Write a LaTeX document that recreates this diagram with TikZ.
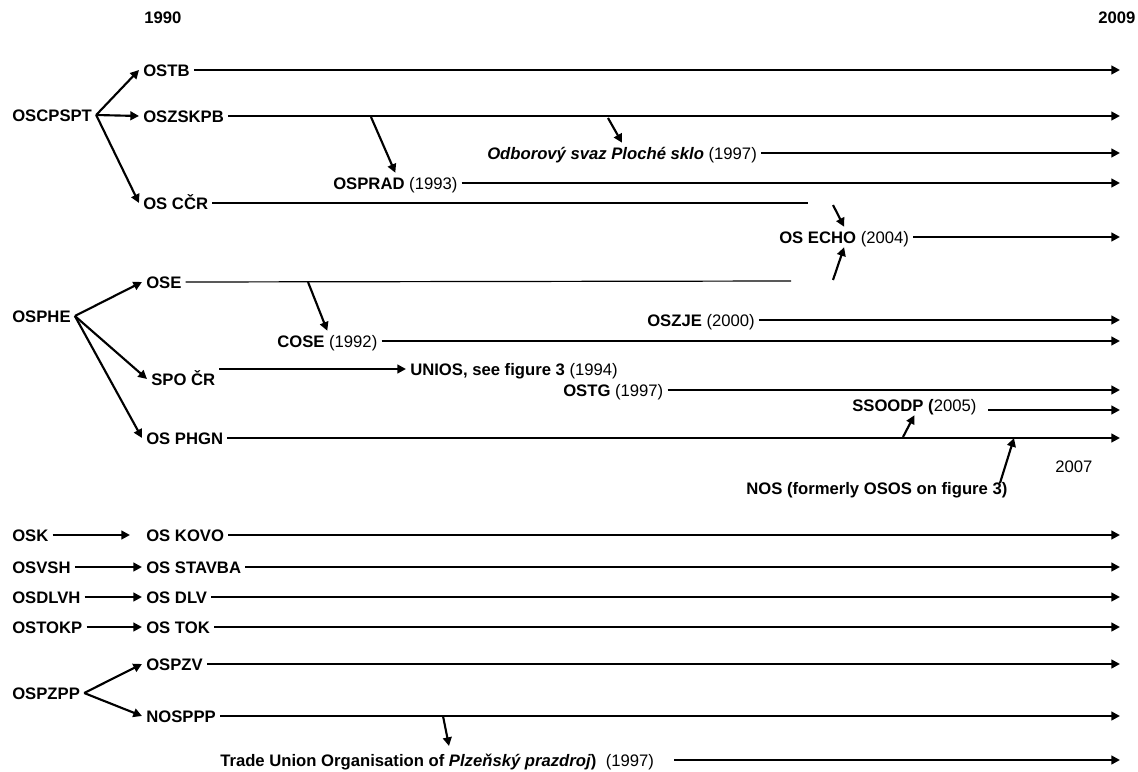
\documentclass[tikz,border=0pt]{standalone}
\usepackage{fontspec}
\setmainfont{Liberation Sans}
\usetikzlibrary{arrows.meta}

\begin{document}
\begin{tikzpicture}[x=0.75pt,y=-0.75pt,
  lbl/.style={anchor=west,inner sep=3pt,text height=9pt,text depth=0pt,font=\fontsize{12.5}{15}\selectfont},
  tl/.style={line width=2.1pt,-{Triangle[length=6.5pt,width=6.5pt]}},
  thin line/.style={line width=0.9pt},
  br/.style={line width=1.6pt,-{Triangle[length=6.5pt,width=6.5pt]}}]
\useasboundingbox (0,0) rectangle (1138,771);
\coordinate (end) at (1120,0);
% years
\node[lbl] at (140,17) (y1990) {\textbf{1990}};
\node[lbl] at (1094,17) (y2009) {\textbf{2009}};
% first group
\node[lbl] at (8,115) (oscpspt) {\textbf{OSCPSPT}};
\node[lbl] at (139,70) (ostb) {\textbf{OSTB}};
\node[lbl] at (139,116) (oszskpb) {\textbf{OSZSKPB}};
\node[lbl] at (139,203) (oscr) {\textbf{OS CČR}};
\node[lbl] at (329,183) (osprad) {\textbf{OSPRAD} (1993)};
\node[lbl] at (483,153) (ploche) {\textbf{\textit{Odborový svaz Ploché sklo}} (1997)};
\node[lbl] at (775,237) (osecho) {\textbf{OS ECHO} (2004)};
\draw[br] (oscpspt.east) -- (ostb.west);
\draw[br] (oscpspt.east) -- (oszskpb.west);
\draw[br] (oscpspt.east) -- (oscr.west);
\draw[tl] (ostb.east) -- (ostb.east -| end);
\draw[tl] (oszskpb.east) -- (oszskpb.east -| end);
\draw[tl] (osprad.east) -- (osprad.east -| end);
\draw[tl] (ploche.east) -- (ploche.east -| end);
\draw[tl] (osecho.east) -- (osecho.east -| end);
\coordinate (b1) at (371,117);
\coordinate (b2) at (608,118);
\coordinate (crend) at (808,203);
\coordinate (c1) at (833,205);
\coordinate (c2) at (833,280);
\draw[br] (b1) -- (osprad.north);
\draw[br] (b2) -- (ploche.north);
\draw[thin line] (oscr.east) -- (crend);
\draw[br] (c1) -- (osecho.north);
\draw[br] (c2) -- (osecho.south);
% second group
\node[lbl] at (8,316) (osphe) {\textbf{OSPHE}};
\node[lbl] at (142,282) (ose) {\textbf{OSE}};
\node[lbl] at (643,320) (oszje) {\textbf{OSZJE} (2000)};
\node[lbl] at (273,341) (cose) {\textbf{COSE} (1992)};
\node[lbl] at (147,379) (spocr) {\textbf{SPO ČR}};
\node[lbl] at (406,369) (unios) {\textbf{UNIOS, see figure 3} (1994)};
\node[lbl] at (559,390) (ostg) {\textbf{OSTG} (1997)};
\node[lbl] at (848,405) (ssoodp) {\textbf{SSOODP (}2005)};
\node[lbl] at (142,438) (osphgn) {\textbf{OS PHGN}};
\node[lbl] at (1051,466) (y2007) {2007};
\node[lbl] at (742,488) (nos) {\textbf{NOS (formerly OSOS on figure 3)}};
\draw[br] (osphe.east) -- (ose.west);
\draw[br] (osphe.east) -- (spocr.west);
\draw[br] (osphe.east) -- (osphgn.west);
\coordinate (oseend) at (791,281);
\coordinate (b3) at (308,282);
\coordinate (b4) at (903,437);
\coordinate (n1) at (1000,483);
\coordinate (n2) at (1014,438);
\coordinate (ssline) at (988,410);
\draw[thin line] (ose.east) -- (oseend);
\draw[br] (b3) -- (cose.north);
\draw[tl] (oszje.east) -- (oszje.east -| end);
\draw[tl] (cose.east) -- (cose.east -| end);
\draw[tl] (spocr.east |- unios) -- (unios.west);
\draw[tl] (ostg.east) -- (ostg.east -| end);
\draw[tl] (ssline) -- (ssline -| end);
\draw[tl] (osphgn.east) -- (osphgn.east -| end);
\draw[br] (b4) -- (ssoodp.south);
\draw[br] (n1) -- (n2);
% renamed unions
\node[lbl] at (8,535) (osk) {\textbf{OSK}};
\node[lbl] at (142,535) (oskovo) {\textbf{OS KOVO}};
\node[lbl] at (8,567) (osvsh) {\textbf{OSVSH}};
\node[lbl] at (142,567) (osstavba) {\textbf{OS STAVBA}};
\node[lbl] at (8,597) (osdlvh) {\textbf{OSDLVH}};
\node[lbl] at (142,597) (osdlv) {\textbf{OS DLV}};
\node[lbl] at (8,627) (ostokp) {\textbf{OSTOKP}};
\node[lbl] at (142,627) (ostok) {\textbf{OS TOK}};
\draw[tl,shorten >=9pt] (osk.east) -- (oskovo.west);
\draw[tl] (osvsh.east) -- (osstavba.west);
\draw[tl] (osdlvh.east) -- (osdlv.west);
\draw[tl] (ostokp.east) -- (ostok.west);
\draw[tl] (oskovo.east) -- (oskovo.east -| end);
\draw[tl] (osstavba.east) -- (osstavba.east -| end);
\draw[tl] (osdlv.east) -- (osdlv.east -| end);
\draw[tl] (ostok.east) -- (ostok.east -| end);
% last group
\node[lbl] at (8,693) (ospzpp) {\textbf{OSPZPP}};
\node[lbl] at (142,664) (ospzv) {\textbf{OSPZV}};
\node[lbl] at (142,716) (nosppp) {\textbf{NOSPPP}};
\node[lbl] at (216,760) (trade) {\textbf{Trade Union Organisation of \textit{Plzeňský prazdroj})}\ \ (1997)};
\draw[br] (ospzpp.east) -- (ospzv.west);
\draw[br] (ospzpp.east) -- (nosppp.west);
\draw[tl] (ospzv.east) -- (ospzv.east -| end);
\draw[tl] (nosppp.east) -- (nosppp.east -| end);
\coordinate (b5) at (443,716);
\coordinate (b6) at (449,746);
\draw[br] (b5) -- (b6);
\draw[tl] ([xshift=12pt]trade.east) -- (trade.east -| end);
\end{tikzpicture}
\end{document}
